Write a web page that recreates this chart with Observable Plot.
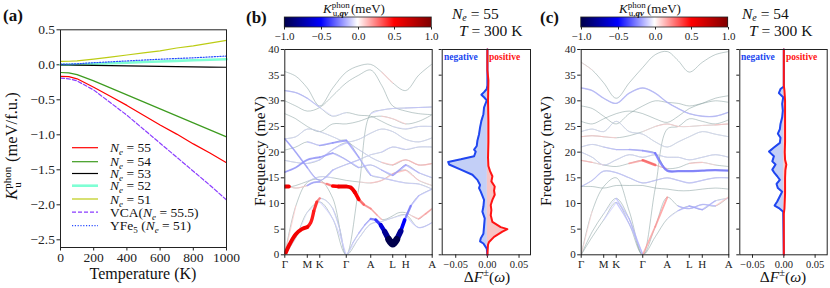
<!DOCTYPE html>
<html><head><meta charset="utf-8">
<style>
body{margin:0;background:#fff;font-family:"Liberation Serif",serif;}
#fig{position:relative;width:830px;height:288px;background:#fff;font-family:"Liberation Serif",serif;}
#fig > svg{position:absolute;}
#ov{left:0;top:0;z-index:10;pointer-events:none;}
#ov text{font-family:"Liberation Serif",serif;}
</style>
<script>
if (document.fonts && document.fonts.load) {
  ["16px 'Liberation Serif'","italic 16px 'Liberation Serif'","bold 16px 'Liberation Serif'","bold italic 16px 'Liberation Serif'"].forEach(f => { try { document.fonts.load(f); } catch(e) {} });
}
</script>
<script src="https://cdn.jsdelivr.net/npm/d3@7"></script>
<script src="https://cdn.jsdelivr.net/npm/@observablehq/plot@0.6"></script>
</head><body><div id="fig">
<svg id="ov" width="830" height="288" font-family="Liberation Serif" fill="#111">
<text font-family="Liberation Serif" x="3" y="21" font-weight="bold" font-size="17">(a)</text>
<text font-family="Liberation Serif" x="246" y="23" font-weight="bold" font-size="17">(b)</text>
<text font-family="Liberation Serif" x="540" y="23" font-weight="bold" font-size="17">(c)</text>
<text font-family="Liberation Serif" transform="translate(17,146) rotate(-90)" text-anchor="middle" font-size="16.5"><tspan font-style="italic">K</tspan><tspan font-size="11" dy="-6">phon</tspan><tspan font-size="11" dx="-21" dy="10">u</tspan><tspan dx="16" dy="-4"> (meV/f.u.)</tspan></text>
<text font-family="Liberation Serif" x="143" y="279" text-anchor="middle" font-size="16">Temperature (K)</text>
<line x1="72" x2="98" y1="147.7" y2="147.7" stroke="#ff0000" stroke-width="1.2"/>
<line x1="72" x2="98" y1="161.7" y2="161.7" stroke="#3d9b1f" stroke-width="1.2"/>
<line x1="72" x2="98" y1="173.5" y2="173.5" stroke="#000000" stroke-width="1.2"/>
<line x1="72" x2="98" y1="185.7" y2="185.7" stroke="#7fffd4" stroke-width="2.6"/>
<line x1="72" x2="98" y1="199" y2="199" stroke="#bccc14" stroke-width="1.2"/>
<line x1="72" x2="98" y1="212.2" y2="212.2" stroke="#8b3dff" stroke-width="1.2" stroke-dasharray="4,2"/>
<line x1="72" x2="98" y1="225.7" y2="225.7" stroke="#2a4cff" stroke-width="1.2" stroke-dasharray="1.2,1.6"/>
<text font-family="Liberation Serif" x="110" y="152.2" font-size="13.5"><tspan font-style="italic">N</tspan><tspan font-style="italic" font-size="9" dy="3">e</tspan><tspan dy="-3"> = 55</tspan></text>
<text font-family="Liberation Serif" x="110" y="166.2" font-size="13.5"><tspan font-style="italic">N</tspan><tspan font-style="italic" font-size="9" dy="3">e</tspan><tspan dy="-3"> = 54</tspan></text>
<text font-family="Liberation Serif" x="110" y="178" font-size="13.5"><tspan font-style="italic">N</tspan><tspan font-style="italic" font-size="9" dy="3">e</tspan><tspan dy="-3"> = 53</tspan></text>
<text font-family="Liberation Serif" x="110" y="190.2" font-size="13.5"><tspan font-style="italic">N</tspan><tspan font-style="italic" font-size="9" dy="3">e</tspan><tspan dy="-3"> = 52</tspan></text>
<text font-family="Liberation Serif" x="110" y="203.5" font-size="13.5"><tspan font-style="italic">N</tspan><tspan font-style="italic" font-size="9" dy="3">e</tspan><tspan dy="-3"> = 51</tspan></text>
<text font-family="Liberation Serif" x="110" y="216.7" font-size="13.5">VCA(<tspan font-style="italic">N</tspan><tspan font-style="italic" font-size="9" dy="3">e</tspan><tspan dy="-3"> = 55.5)</tspan></text>
<text font-family="Liberation Serif" x="110" y="230.2" font-size="13.5">YFe<tspan font-size="9" dy="3">5</tspan><tspan dy="-3"> (</tspan><tspan font-style="italic">N</tspan><tspan font-style="italic" font-size="9" dy="3">e</tspan><tspan dy="-3"> = 51)</tspan></text>
<text font-family="Liberation Serif" x="354" y="12.5" text-anchor="middle" font-size="13"><tspan font-style="italic">K</tspan><tspan font-size="9" dy="-5">phon</tspan><tspan font-size="9" dx="-17" dy="8">u,</tspan><tspan font-size="9" font-weight="bold" font-style="italic">qν</tspan><tspan dx="3" dy="-3">(meV)</tspan></text>
<text font-family="Liberation Serif" x="650" y="12.5" text-anchor="middle" font-size="13"><tspan font-style="italic">K</tspan><tspan font-size="9" dy="-5">phon</tspan><tspan font-size="9" dx="-17" dy="8">u,</tspan><tspan font-size="9" font-weight="bold" font-style="italic">qν</tspan><tspan dx="3" dy="-3">(meV)</tspan></text>
<rect x="284.3" y="17" width="147" height="10" fill="none" stroke="#222" stroke-width="0.8"/>
<rect x="580.7" y="17" width="147" height="10" fill="none" stroke="#222" stroke-width="0.8"/>
<text font-family="Liberation Serif" x="452" y="18.5" font-size="15.5"><tspan font-style="italic">N</tspan><tspan font-style="italic" font-size="10" dy="2.5">e</tspan><tspan dy="-2.5"> = 55</tspan></text>
<text font-family="Liberation Serif" x="459" y="36" font-size="15.5"><tspan font-style="italic">T</tspan> = 300 K</text>
<text font-family="Liberation Serif" x="742" y="18.5" font-size="15.5"><tspan font-style="italic">N</tspan><tspan font-style="italic" font-size="10" dy="2.5">e</tspan><tspan dy="-2.5"> = 54</tspan></text>
<text font-family="Liberation Serif" x="749" y="36" font-size="15.5"><tspan font-style="italic">T</tspan> = 300 K</text>
<text font-family="Liberation Serif" x="444" y="60" font-size="9.5" font-weight="bold" fill="#2046f0">negative</text>
<text font-family="Liberation Serif" x="489" y="60" font-size="9.5" font-weight="bold" fill="#ff1414">positive</text>
<text font-family="Liberation Serif" x="741" y="60" font-size="9.5" font-weight="bold" fill="#2046f0">negative</text>
<text font-family="Liberation Serif" x="786" y="60" font-size="9.5" font-weight="bold" fill="#ff1414">positive</text>
<text font-family="Liberation Serif" transform="translate(265,151) rotate(-90)" text-anchor="middle" font-size="15.5">Frequency (meV)</text>
<text font-family="Liberation Serif" transform="translate(551,151) rotate(-90)" text-anchor="middle" font-size="15.5">Frequency (meV)</text>
<text font-family="Liberation Serif" x="487" y="282" text-anchor="middle" font-size="15.5">Δ<tspan font-style="italic">F</tspan><tspan font-size="10.5" dy="-6">±</tspan><tspan dy="6">(</tspan><tspan font-style="italic">ω</tspan>)</text>
<text font-family="Liberation Serif" x="783" y="282" text-anchor="middle" font-size="15.5">Δ<tspan font-style="italic">F</tspan><tspan font-size="10.5" dy="-6">±</tspan><tspan dy="6">(</tspan><tspan font-style="italic">ω</tspan>)</text>
</svg>
</div>
<script>
// ---------- panel (a) data ----------
const temps = [0,50,100,200,300,400,500,600,700,800,900,1000];
const kN55 = [-0.165,-0.17,-0.2,-0.32,-0.45,-0.58,-0.72,-0.86,-0.99,-1.13,-1.26,-1.40];
const kN54 = [-0.11,-0.115,-0.14,-0.23,-0.33,-0.43,-0.53,-0.63,-0.73,-0.83,-0.93,-1.03];
const kN53 = [-0.002,-0.003,-0.004,-0.008,-0.011,-0.015,-0.018,-0.022,-0.025,-0.029,-0.032,-0.035];
const kN52 = [0.0,0.001,0.004,0.015,0.022,0.03,0.039,0.048,0.056,0.065,0.073,0.08];
const kN51 = [0.05,0.051,0.055,0.08,0.11,0.14,0.17,0.2,0.24,0.27,0.31,0.35];
const kVCA = [-0.19,-0.2,-0.23,-0.36,-0.54,-0.72,-0.92,-1.12,-1.32,-1.52,-1.72,-1.93];
const kYFe5 = [0.01,0.011,0.015,0.03,0.042,0.055,0.068,0.08,0.09,0.1,0.112,0.125];
const xTicksA = [0,200,400,600,800,1000];
const yTicksA = [-2.5,-2,-1.5,-1,-0.5,0,0.5];

// ---------- band structure data ----------
const pathX = [0,11,22.5,35,48,61.5,74,86,97,108,121,134,147.5];
const symX = [0,22.5,35,61.5,86,108,121,147.5];
const symLabels = ["Γ","M","K","Γ","A","L","H","A"];
const freqTicks = [0,5,10,15,20,25,30,35,40];

const bandsB = [
 {x:[0,5,11,17,22.5,26,29,32,35,41,48,55,61.5,68,74,80,86,91,96,100,104,108,112,116,120,126,134,147.5],
  f:[0,2.1,4.0,5.0,5.4,6.3,8.5,10.3,11.0,10.6,9.0,5.0,0,2.3,4.2,5.8,7.0,6.8,5.8,4.5,3.0,2.1,3.0,4.6,6.8,9.5,11.5,12.8],
  k:[0.55,0.55,0.55,0.55,0.45,0.45,0.4,0.3,-0.08,-0.08,-0.1,-0.1,-0.1,-0.12,-0.15,-0.18,-0.3,-0.4,-0.6,-0.8,-1,-1,-0.8,-0.5,-0.3,-0.15,-0.12]},
 {f:[0,3.3,8.3,10.3,7.0,0,3.2,6.0,6.5,7.2,7.8,5.3,6.3], k:[-0.06,-0.06,-0.08,-0.1,-0.1,-0.08,-0.08,-0.08,-0.08,-0.08,-0.12,-0.12]},
 {f:[0,9.5,14.1,14.6,11.0,0,13.0,27.5,28.2,28.5,28.6,28.7,28.8], k:[0.1,0.03,0,0,0,0,0,-0.1,-0.1,-0.1,-0.12,-0.12]},
 {x:[0,4,11,22.5,29,35,42,48,54,61.5,66,70,74,79,86,92,97,102,108,114,121,128,134,141,147.5],
  f:[13.3,13.3,13.0,13.5,14.1,14.2,13.8,13.4,13.3,13.3,13.1,12.2,10.8,9.8,9.0,7.8,6.9,7.0,7.6,8.2,8.2,7.5,7.0,8.0,9.0],
  k:[0.55,0.1,0.1,-0.2,-0.2,0.15,0.3,0.5,0.55,0.55,0.55,0.5,0.35,0.25,0.2,0.15,0.05,0.05,0.05,0.05,0.08,0.12,0.18,0.2]},
 {f:[13.0,13.5,14.3,15.2,15.0,14.5,14.2,14.0,14.5,15.8,16.5,14.5,13.5], k:[0.05,0.05,-0.08,-0.08,0,0,0.08,0.12,0.12,0.15,0.12,0.08]},
 {f:[16.1,17.0,18.5,19.0,19.8,18.5,17.0,17.5,16.5,15.5,17.5,16.0,15.0], k:[-0.22,-0.22,-0.22,-0.2,-0.16,-0.16,-0.12,-0.12,-0.16,-0.2,-0.16,-0.12]},
 {f:[18.4,18.0,17.8,18.5,20.5,21.8,20.5,19.0,18.0,17.5,18.5,17.5,17.8], k:[-0.08,-0.08,-0.1,-0.12,-0.12,-0.08,-0.08,-0.08,0.12,0.15,0.15,0.15]},
 {f:[20.4,21.0,22.0,21.3,21.8,22.3,19.0,15.5,15.0,14.5,14.0,13.8,12.8], k:[-0.05,-0.05,-0.12,-0.2,-0.22,-0.2,-0.16,-0.12,-0.12,-0.1,-0.1,-0.08]},
 {f:[22.6,20.0,17.0,14.5,16.5,17.6,18.5,19.5,20.0,21.0,20.5,21.0,21.0], k:[-0.2,-0.2,-0.16,-0.16,-0.12,-0.12,-0.08,-0.08,-0.1,-0.1,-0.08,-0.08]},
 {f:[22.6,23.0,24.5,24.0,23.0,22.0,22.5,23.7,24.5,24.0,22.5,22.0,22.8], k:-0.07},
 {f:[27.5,26.5,25.0,24.0,25.5,25.5,26.0,26.8,27.0,26.5,25.5,26.0,27.3], k:[-0.03,-0.03,-0.03,-0.03,-0.03,-0.03,-0.03,-0.03,0.1,0.1,-0.03,-0.03]},
 {f:[32.0,31.6,30.5,28.7,27.0,27.7,27.2,27.0,26.0,25.0,24.5,25.0,25.0], k:[-0.15,-0.15,-0.12,-0.08,-0.07,-0.05,-0.05,-0.05,-0.05,-0.07,-0.08,-0.08]},
 {f:[35.7,34.8,32.5,29.0,32.5,35.6,36.8,37.1,35.6,33.5,32.0,35.0,37.2], k:[-0.05,-0.05,-0.05,0,0,-0.03,-0.03,-0.03,0.1,0.05,0,0]},
 {f:[30.0,29.0,28.0,28.7,31.0,33.5,35.0,36.0,33.0,29.0,28.0,27.5,27.3], k:-0.02}
];
const bandsC = [
 {f:[0,4.5,8.0,11.0,7.0,0,5.5,11.2,9.5,9.0,9.8,9.5,11.3], k:[-0.05,-0.05,-0.08,-0.14,-0.15,0.2,0.22,0.05,-0.15,-0.15,-0.15,0.12]},
 {f:[0,3.5,6.8,10.2,6.0,0,3.5,7.0,8.6,9.5,8.8,10.5,11.0], k:[-0.05,-0.05,-0.1,-0.14,-0.14,-0.05,-0.05,-0.08,-0.15,-0.18,-0.15,-0.08]},
 {f:[0,8.5,13.3,15.0,8.5,0,13.0,24.5,25.0,26.5,26.0,25.5,26.3], k:[0.08,0.05,0,0,0,0,0,0,0,0,0,0]},
 {f:[13.3,13.3,13.0,13.5,13.5,13.5,13.0,12.8,12.5,12.5,12.8,13.0,12.8], k:-0.05},
 {f:[13.3,14.5,16.3,16.0,15.0,14.0,14.5,15.0,14.5,14.0,14.5,15.0,15.0], k:-0.12},
 {f:[18.4,18.0,17.5,17.2,17.8,18.4,17.5,16.8,17.0,17.8,18.0,17.5,17.2], k:[0.15,0.08,0,0,0.2,0.35,0.12,0,0,0.12,0.08,0]},
 {f:[20.0,19.0,17.5,18.5,19.5,19.0,19.5,19.0,19.0,18.5,19.0,19.5,19.0], k:-0.08},
 {f:[21.0,21.5,21.0,20.5,20.5,20.3,19.8,16.4,16.3,16.3,16.4,16.5,16.4], k:[-0.08,-0.08,-0.12,-0.15,-0.18,-0.22,-0.3,-0.3,-0.3,-0.3,-0.3,-0.3]},
 {f:[24.0,24.5,24.0,26.0,24.0,23.5,22.0,21.0,22.0,23.0,24.0,23.5,23.0], k:-0.06},
 {f:[23.0,23.2,23.0,22.8,23.2,24.0,25.0,25.5,25.0,25.0,25.2,25.3,25.5], k:[0.12,0.12,0.1,0.05,0.05,0.07,0.1,0.1,0.08,0.07,0.08,0.12]},
 {f:[29.0,28.5,27.0,25.5,27.5,29.0,30.0,29.7,29.5,29.0,29.5,30.0,29.7], k:-0.03},
 {f:[32.5,32.0,30.5,29.5,31.5,32.5,31.5,29.7,28.5,27.5,27.0,27.0,27.8], k:-0.15},
 {f:[37.5,36.0,33.5,30.5,33.5,36.5,39.0,39.6,37.8,35.6,37.5,39.0,39.6], k:[0.07,0.05,0,0,0,0,0,0,0,0,0,0]},
 {f:[26.0,25.5,26.5,27.5,28.0,27.5,26.5,25.8,27.0,28.5,29.5,30.5,31.0], k:-0.05}
];

// ---------- ΔF±(ω) data ----------
const dosBnegF = [0,1.2,2.2,2.6,3.2,4.1,5.5,7.1,8.4,9.4,10.7,12.3,13,13.6,14.6,15.6,16.6,17.6,18.1,18.6,19.2,20.1,20.5,21.2,22.2,23.5,24.8,26.1,27.4,28.7,30.1,30.7,31.2,31.7,32.3,33,40];
const dosBnegV = [0,-0.001,-0.0063,-0.0116,-0.0105,-0.0063,-0.0053,-0.0042,-0.0079,-0.0063,-0.0053,-0.0105,-0.0132,-0.0116,-0.0158,-0.0237,-0.042,-0.0605,-0.062,-0.042,-0.021,-0.0184,-0.021,-0.0168,-0.0158,-0.0132,-0.0116,-0.0095,-0.0063,-0.0053,-0.001,-0.0053,-0.0095,-0.0053,-0.001,0,0];
const dosBposF = [0,2,2.5,3.5,4.5,5,5.4,6.4,7.7,8.7,9.7,10.7,11.7,12.5,13.3,14.3,15.3,16.3,17.3,18.9,22,26,30,34,36,40];
const dosBposV = [0,0.001,0.0026,0.0105,0.0237,0.0316,0.021,0.0079,0.0053,0.0063,0.0053,0.0079,0.0116,0.0105,0.0116,0.0063,0.0079,0.0042,0.0016,0.001,0.0016,0.0016,0.001,0.0016,0,0];
const dosCnegF = [0,8.4,9.1,9.6,10.4,11.4,12.3,13,13.8,14.6,15.3,15.9,16.6,17.6,18.2,19.2,20.1,20.9,21.8,22.8,23.6,24.5,25.5,26.8,28.1,29.4,30.7,31.5,32.3,32.8,40];
const dosCnegV = [0,-0.001,-0.0079,-0.0147,-0.0105,-0.0063,-0.0026,-0.0095,-0.0116,-0.0063,-0.0105,-0.0147,-0.0184,-0.0132,-0.0184,-0.0158,-0.0237,-0.0158,-0.0063,-0.0053,-0.0095,-0.0063,-0.0053,-0.0026,-0.0016,-0.0026,-0.001,-0.0079,-0.0053,0,0];
const dosCposF = [0,8,9,12,15,16.5,17.6,18.5,20,22,26,30,32,33,40];
const dosCposV = [0,0,0.001,0.002,0.002,0.0025,0.004,0.002,0.0015,0.002,0.002,0.002,0.001,0,0];
const dosTicks = [-0.05,0,0.05];

// ---------- helpers ----------
const fig = document.getElementById("fig");
const ovl = document.getElementById("ov");
const FONT = "Liberation Serif";
const colorScale = {type:"linear", domain:[-1,-0.5,0,0.5,1], range:["#00004c","#0000ff","#ffffff","#ff0000","#800000"], interpolate:"rgb"};
function place(el, left, top){
  el.style.left = left+"px"; el.style.top = top+"px";
  el.setAttribute("font-family", FONT);
  el.querySelectorAll("text").forEach(t => t.setAttribute("font-family", FONT));
  fig.insertBefore(el, ovl);
  return el;
}
const baseStyle = (fs) => ({fontFamily:FONT, fontSize:fs, color:"#222", background:"transparent", overflow:"visible"});

// panel (a)
const seriesA = [
  {v:kN52, stroke:"#7fffd4", w:2.6},
  {v:kN53, stroke:"#000000", w:1.2},
  {v:kYFe5, stroke:"#2a4cff", w:1.2, dash:"1.2,1.6"},
  {v:kN51, stroke:"#bccc14", w:1.2},
  {v:kN54, stroke:"#3d9b1f", w:1.2},
  {v:kN55, stroke:"#ff0000", w:1.2},
  {v:kVCA, stroke:"#8b3dff", w:1.2, dash:"4,2"}
];
const plotA = Plot.plot({
  width:240, height:288, marginLeft:60, marginRight:14, marginTop:29.3, marginBottom:41,
  style: baseStyle("13.5px"),
  x:{domain:[0,1000], ticks:xTicksA, tickFormat:d3.format("d"), tickSize:3.5, tickPadding:1.5, label:null},
  y:{domain:[-2.61,0.5], ticks:yTicksA, tickFormat:".1f", tickSize:3.5, tickPadding:2, label:null},
  marks:[
    ...seriesA.map(s => Plot.line(temps.map((t,i)=>({t, v:s.v[i]})), {x:"t", y:"v", stroke:s.stroke, strokeWidth:s.w, strokeDasharray:s.dash})),
    Plot.frame({stroke:"#222"})
  ]
});
place(plotA, 0, 0);

// band structure
const symMap = new Map(symX.map((x,i)=>[x, symLabels[i]]));
function buildSections(bands){
  const base = [], secs = [];
  bands.forEach((b,bi)=>{
    const xs = b.x || pathX;
    const ks = Array.isArray(b.k) ? b.k : xs.slice(1).map(()=>b.k);
    xs.forEach((x,i)=>base.push({band:bi, x, f:b.f[i]}));
    let s = 0;
    for (let i=1;i<=ks.length;i++){
      if (i===ks.length || ks[i]!==ks[s]){
        const k = ks[s];
        if (Math.abs(k) >= 0.06){
          const pts = [];
          for (let j=s;j<=i;j++) pts.push({id:bi+"-"+s, x:xs[j], f:b.f[j], k, w:0.4+6.5*Math.abs(k), o:Math.abs(k)>=0.4?1:0.75});
          secs.push(pts);
        }
        s = i;
      }
    }
  });
  secs.sort((a,b)=>Math.abs(a[0].k)-Math.abs(b[0].k));
  return {base, over: secs.flat()};
}
function bandPlot(bands, left, width, mL, mR){
  const {base, over} = buildSections(bands);
  const p = Plot.plot({
    width, height:288, marginLeft:mL, marginRight:mR, marginTop:49, marginBottom:33.7,
    style: baseStyle("11px"),
    x:{domain:[0,147.5], ticks:symX, tickFormat:d=>symMap.get(d), tickSize:3.5, tickPadding:2, label:null},
    y:{domain:[0,40], ticks:freqTicks, tickFormat:d3.format("d"), tickSize:3.5, tickPadding:2, label:null},
    color: colorScale,
    marks:[
      Plot.line(base, {x:"x", y:"f", z:"band", stroke:"#7f9898", strokeWidth:0.5, curve:"catmull-rom", clip:true}),
      Plot.line(over, {x:"x", y:"f", z:"id", stroke:"k", strokeWidth:"w", strokeOpacity:"o", curve:"catmull-rom", clip:true}),
      Plot.frame({stroke:"#222"})
    ]
  });
  place(p, left, 0);
}
bandPlot(bandsB, 240, 200, 44.3, 8.3);
bandPlot(bandsC, 540, 195, 40.7, 6.7);

// ΔF± panels
function dosPlot(nf, nv, pf, pv, left, width, mL, mR, xdom){
  const neg = nf.map((f,i)=>({f, v:nv[i]}));
  const pos = pf.map((f,i)=>({f, v:pv[i]}));
  const p = Plot.plot({
    width, height:288, marginLeft:mL, marginRight:mR, marginTop:49, marginBottom:33.7,
    style: baseStyle("10.5px"),
    x:{domain:xdom, ticks:dosTicks, tickFormat:d3.format(".2f"), tickSize:3.5, tickPadding:2, label:null},
    y:{domain:[0,40], ticks:freqTicks, tickFormat:()=>"", tickSize:3, label:null},
    marks:[
      Plot.areaX(neg, {x:"v", y:"f", fill:"#c3cff7"}),
      Plot.areaX(pos, {x:"v", y:"f", fill:"#f7c4c4"}),
      Plot.lineX(neg, {x:"v", y:"f", stroke:"#2046f0", strokeWidth:2}),
      Plot.lineX(pos, {x:"v", y:"f", stroke:"#ff1414", strokeWidth:2}),
      Plot.frame({stroke:"#222"})
    ]
  });
  place(p, left, 0);
}
dosPlot(dosBnegF, dosBnegV, dosBposF, dosBposV, 440, 95, 1.7, 5, [-0.0714, 0.0681]);
dosPlot(dosCnegF, dosCnegV, dosCposF, dosCposV, 737, 93, 2.3, 3.3, [-0.0703, 0.0693]);

// colorbars
function colorbar(left){
  const opts = {width:167, height:34, marginTop:2, marginBottom:22, marginLeft:10, marginRight:10, tickSize:2.5, ticks:5, tickFormat:".1f", style: baseStyle("11px")};
  const lg = Plot.legend({color:{...colorScale, ...opts}, ...opts});
  lg.querySelectorAll(".tick line").forEach(l=>{ l.setAttribute("y1", 0); });
  lg.style.position = "absolute";
  place(lg, left, 15);
}
colorbar(274.3);
colorbar(570.7);
</script></body></html>
